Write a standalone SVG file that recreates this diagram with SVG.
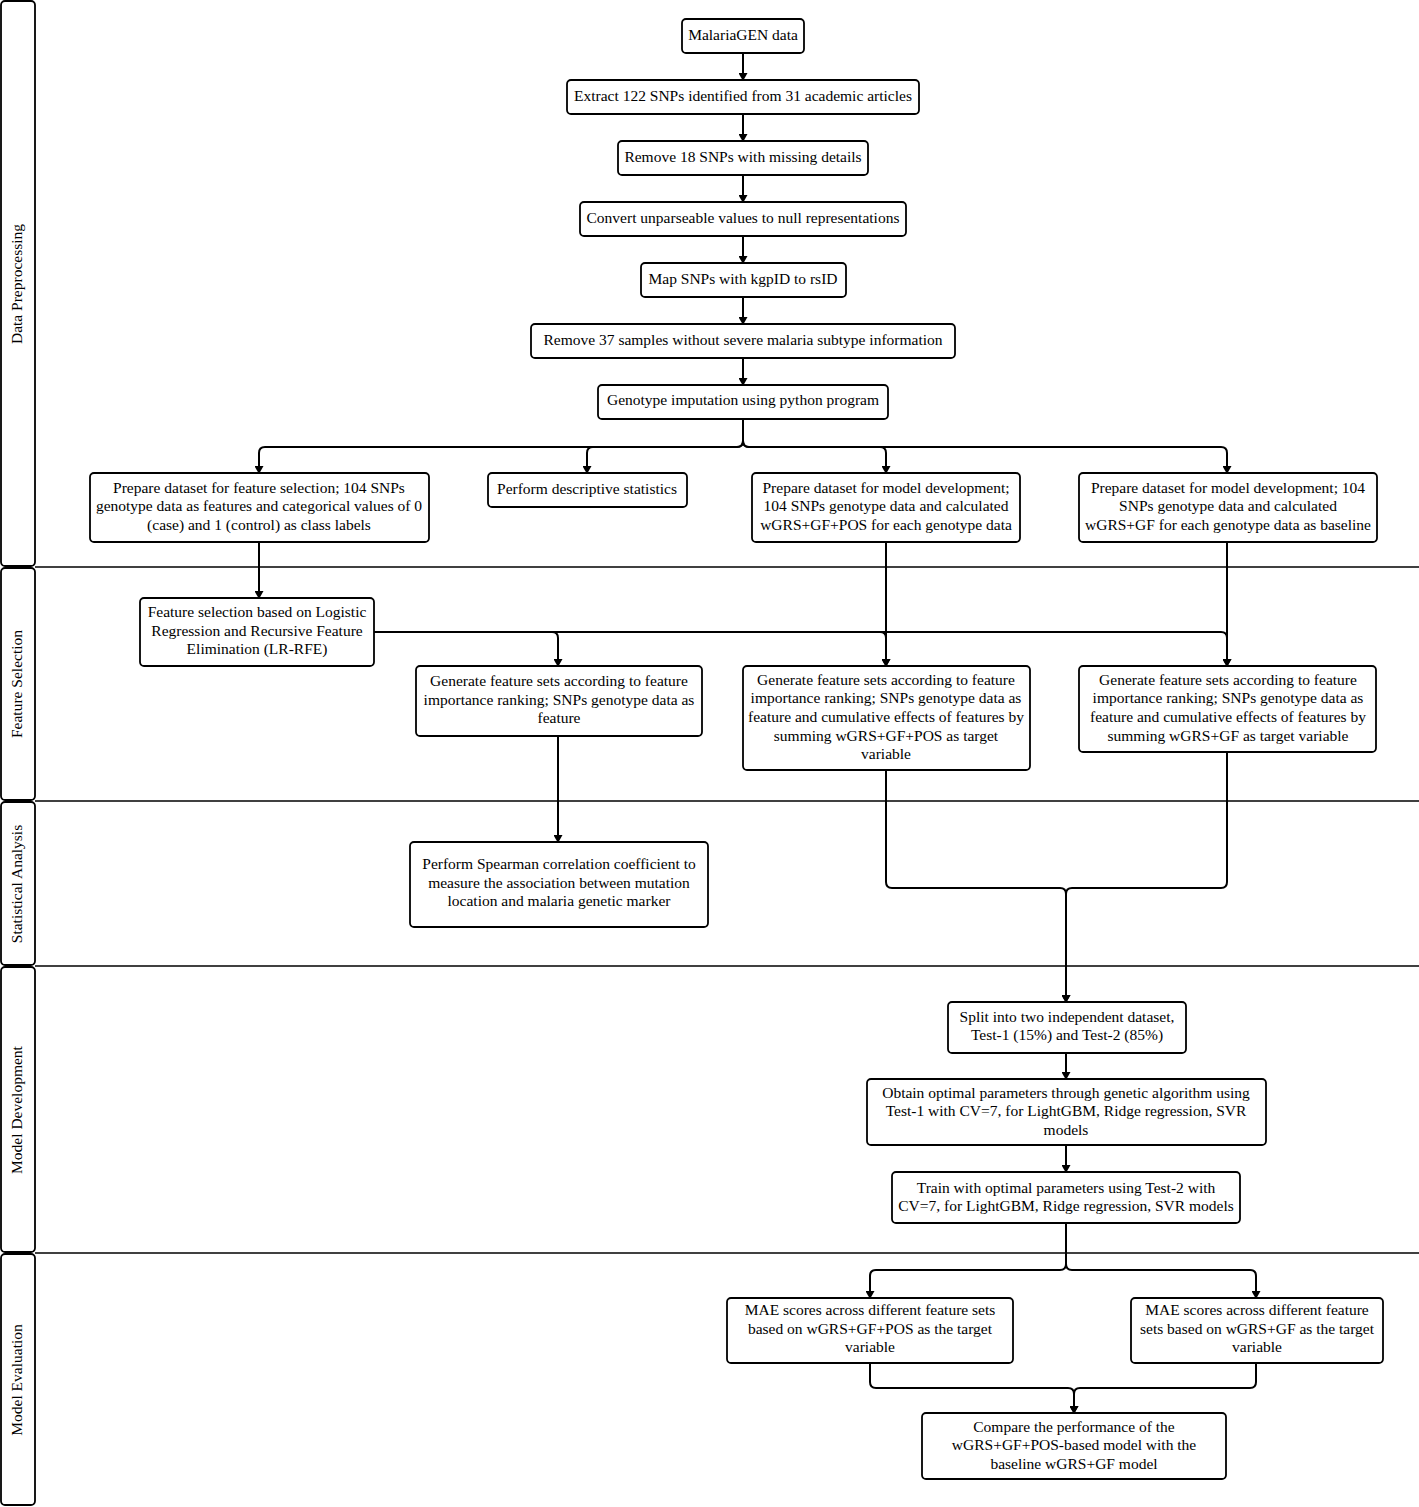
<svg xmlns="http://www.w3.org/2000/svg" width="1419" height="1507" viewBox="0 0 1419 1507">
<style>
.b{fill:#fff;stroke:#000;stroke-width:1.8}
.l{fill:#fff;stroke:#000;stroke-width:1.8}
.d{stroke:#000;stroke-width:1.5}
text{font-family:"Liberation Serif","Times New Roman",serif;font-size:15.5px;fill:#000;text-anchor:middle}
.c{fill:none;stroke:#000;stroke-width:2;marker-end:url(#a)}
.n{fill:none;stroke:#000;stroke-width:2}
</style>
<defs>
<marker id="a" markerWidth="8" markerHeight="9" refX="7" refY="4.5" orient="auto" markerUnits="userSpaceOnUse">
<path d="M0,0 L8,4.5 L0,9 Z" fill="#000"/>
</marker>
</defs>
<g id="lanes">
<line class="d" x1="35" y1="567" x2="1419" y2="567"/>
<line class="d" x1="35" y1="801" x2="1419" y2="801"/>
<line class="d" x1="35" y1="966" x2="1419" y2="966"/>
<line class="d" x1="35" y1="1253" x2="1419" y2="1253"/>
<rect class="l" x="1" y="1" width="34" height="565" rx="4"/>
<rect class="l" x="1" y="568" width="34" height="232" rx="4"/>
<rect class="l" x="1" y="802" width="34" height="163" rx="4"/>
<rect class="l" x="1" y="967" width="34" height="285" rx="4"/>
<rect class="l" x="1" y="1254" width="34" height="251" rx="4"/>
<text transform="translate(22,284) rotate(-90)">Data Preprocessing</text>
<text transform="translate(22,684) rotate(-90)">Feature Selection</text>
<text transform="translate(22,884) rotate(-90)">Statistical Analysis</text>
<text transform="translate(22,1110) rotate(-90)">Model Development</text>
<text transform="translate(22,1380) rotate(-90)">Model Evaluation</text>
</g>
<g id="connectors">
<line class="c" x1="743" y1="53" x2="743" y2="80"/>
<line class="c" x1="743" y1="114" x2="743" y2="141"/>
<line class="c" x1="743" y1="175" x2="743" y2="202"/>
<line class="c" x1="743" y1="236" x2="743" y2="263"/>
<line class="c" x1="743" y1="297" x2="743" y2="324"/>
<line class="c" x1="743" y1="358" x2="743" y2="385"/>
<path class="c" d="M743,419 V441 Q743,447 737,447 H265 Q259,447 259,453 V473"/>
<path class="c" d="M743,419 V441 Q743,447 737,447 H593 Q587,447 587,453 V473"/>
<path class="c" d="M743,419 V441 Q743,447 749,447 H880 Q886,447 886,453 V473"/>
<path class="c" d="M743,419 V441 Q743,447 749,447 H1221 Q1227,447 1227,453 V473"/>
<line class="c" x1="259" y1="542" x2="259" y2="598"/>
<line class="c" x1="886" y1="542" x2="886" y2="666"/>
<line class="c" x1="1227" y1="542" x2="1227" y2="666"/>
<path class="c" d="M374,632 H552 Q558,632 558,638 V666"/>
<path class="c" d="M374,632 H880 Q886,632 886,638 V666"/>
<path class="c" d="M374,632 H1221 Q1227,632 1227,638 V666"/>
<line class="c" x1="558" y1="736" x2="558" y2="842"/>
<path class="c" d="M886,770 V882 Q886,888 892,888 H1060 Q1066,888 1066,894 V1002"/>
<path class="c" d="M1227,752 V882 Q1227,888 1221,888 H1072 Q1066,888 1066,894 V1002"/>
<line class="c" x1="1066" y1="1053" x2="1066" y2="1079"/>
<line class="c" x1="1066" y1="1145" x2="1066" y2="1172"/>
<path class="c" d="M1066,1223 V1264 Q1066,1270 1060,1270 H876 Q870,1270 870,1276 V1298"/>
<path class="c" d="M1066,1223 V1264 Q1066,1270 1072,1270 H1250 Q1256,1270 1256,1276 V1298"/>
<path class="c" d="M870,1363 V1382 Q870,1388 876,1388 H1068 Q1074,1388 1074,1394 V1413"/>
<path class="c" d="M1256,1363 V1382 Q1256,1388 1250,1388 H1080 Q1074,1388 1074,1394 V1413"/>
</g>
<g id="n1"><rect class="b" x="682" y="19" width="122" height="34" rx="4"/><text x="743" y="40">MalariaGEN data</text></g>
<g id="n2"><rect class="b" x="567" y="80" width="352" height="34" rx="4"/><text x="743" y="101">Extract 122 SNPs identified from 31 academic articles</text></g>
<g id="n3"><rect class="b" x="618" y="141" width="250" height="34" rx="4"/><text x="743" y="162">Remove 18 SNPs with missing details</text></g>
<g id="n4"><rect class="b" x="580" y="202" width="326" height="34" rx="4"/><text x="743" y="223">Convert unparseable values to null representations</text></g>
<g id="n5"><rect class="b" x="641" y="263" width="205" height="34" rx="4"/><text x="743" y="284">Map SNPs with kgpID to rsID</text></g>
<g id="n6"><rect class="b" x="531" y="324" width="424" height="34" rx="4"/><text x="743" y="345">Remove 37 samples without severe malaria subtype information</text></g>
<g id="n7"><rect class="b" x="598" y="385" width="290" height="34" rx="4"/><text x="743" y="405">Genotype imputation using python program</text></g>
<g id="n8"><rect class="b" x="90" y="473" width="339" height="69" rx="4"/><text x="259" y="493">Prepare dataset for feature selection; 104 SNPs</text><text x="259" y="511">genotype data as features and categorical values of 0</text><text x="259" y="530">(case) and 1 (control) as class labels</text></g>
<g id="n9"><rect class="b" x="488" y="473" width="199" height="34" rx="4"/><text x="587" y="494">Perform descriptive statistics</text></g>
<g id="n10"><rect class="b" x="752" y="473" width="268" height="69" rx="4"/><text x="886" y="493">Prepare dataset for model development;</text><text x="886" y="511">104 SNPs genotype data and calculated</text><text x="886" y="530">wGRS+GF+POS for each genotype data</text></g>
<g id="n11"><rect class="b" x="1079" y="473" width="298" height="69" rx="4"/><text x="1228" y="493">Prepare dataset for model development; 104</text><text x="1228" y="511">SNPs genotype data and calculated</text><text x="1228" y="530">wGRS+GF for each genotype data as baseline</text></g>
<g id="n12"><rect class="b" x="140" y="598" width="234" height="68" rx="4"/><text x="257" y="617">Feature selection based on Logistic</text><text x="257" y="636">Regression and Recursive Feature</text><text x="257" y="654">Elimination (LR-RFE)</text></g>
<g id="n13"><rect class="b" x="416" y="666" width="286" height="70" rx="4"/><text x="559" y="686">Generate feature sets according to feature</text><text x="559" y="705">importance ranking; SNPs genotype data as</text><text x="559" y="723">feature</text></g>
<g id="n14"><rect class="b" x="743" y="666" width="287" height="104" rx="4"/><text x="886" y="685">Generate feature sets according to feature</text><text x="886" y="703">importance ranking; SNPs genotype data as</text><text x="886" y="722">feature and cumulative effects of features by</text><text x="886" y="741">summing wGRS+GF+POS as target</text><text x="886" y="759">variable</text></g>
<g id="n15"><rect class="b" x="1079" y="666" width="297" height="86" rx="4"/><text x="1228" y="685">Generate feature sets according to feature</text><text x="1228" y="703">importance ranking; SNPs genotype data as</text><text x="1228" y="722">feature and cumulative effects of features by</text><text x="1228" y="741">summing wGRS+GF as target variable</text></g>
<g id="n16"><rect class="b" x="410" y="842" width="298" height="85" rx="4"/><text x="559" y="869">Perform Spearman correlation coefficient to</text><text x="559" y="888">measure the association between mutation</text><text x="559" y="906">location and malaria genetic marker</text></g>
<g id="n17"><rect class="b" x="948" y="1002" width="238" height="51" rx="4"/><text x="1067" y="1022">Split into two independent dataset,</text><text x="1067" y="1040">Test-1 (15%) and Test-2 (85%)</text></g>
<g id="n18"><rect class="b" x="867" y="1079" width="399" height="66" rx="4"/><text x="1066" y="1098">Obtain optimal parameters through genetic algorithm using</text><text x="1066" y="1116">Test-1 with CV=7, for LightGBM, Ridge regression, SVR</text><text x="1066" y="1135">models</text></g>
<g id="n19"><rect class="b" x="892" y="1172" width="348" height="51" rx="4"/><text x="1066" y="1193">Train with optimal parameters using Test-2 with</text><text x="1066" y="1211">CV=7, for LightGBM, Ridge regression, SVR models</text></g>
<g id="n20"><rect class="b" x="727" y="1298" width="286" height="65" rx="4"/><text x="870" y="1315">MAE scores across different feature sets</text><text x="870" y="1334">based on wGRS+GF+POS as the target</text><text x="870" y="1352">variable</text></g>
<g id="n21"><rect class="b" x="1131" y="1298" width="252" height="65" rx="4"/><text x="1257" y="1315">MAE scores across different feature</text><text x="1257" y="1334">sets based on wGRS+GF as the target</text><text x="1257" y="1352">variable</text></g>
<g id="n22"><rect class="b" x="922" y="1413" width="304" height="66" rx="4"/><text x="1074" y="1432">Compare the performance of the</text><text x="1074" y="1450">wGRS+GF+POS-based model with the</text><text x="1074" y="1469">baseline wGRS+GF model</text></g>
</svg>
